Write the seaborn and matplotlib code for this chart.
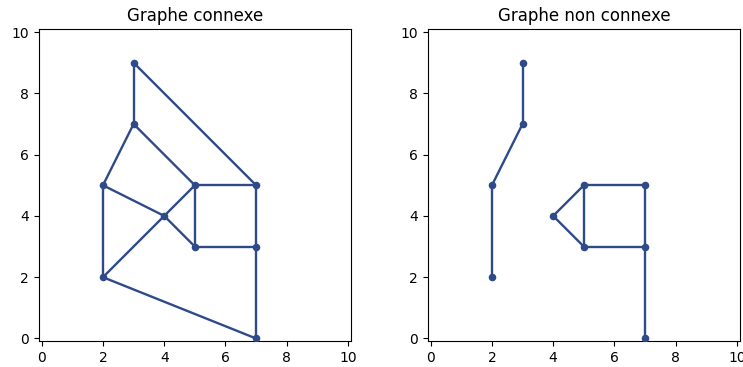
import matplotlib
matplotlib.use("Agg")
import matplotlib.pyplot as plt
import seaborn as sns
import pandas as pd

# node coordinates
nodes_x = [3, 3, 2, 5, 7, 4, 5, 7, 2, 7]
nodes_y = [9, 7, 5, 5, 5, 4, 3, 3, 2, 0]

# edges as pairs of node indices
edges_connexe = [(0, 1), (0, 4), (1, 2), (1, 3), (2, 5), (2, 8), (5, 3), (5, 6),
                 (5, 8), (3, 4), (3, 6), (6, 7), (4, 7), (7, 9), (8, 9)]
edges_non_connexe = [(0, 1), (1, 2), (2, 8), (5, 3), (5, 6), (3, 4), (3, 6),
                     (6, 7), (4, 7), (7, 9)]
nodes_non_connexe = [0, 1, 2, 8, 3, 4, 5, 6, 7, 9]

titles = ["Graphe connexe", "Graphe non connexe"]
color = "#2e4a88"


def edge_frame(edges):
    rows = []
    for k, (a, b) in enumerate(edges):
        rows.append({"edge": k, "x": nodes_x[a], "y": nodes_y[a]})
        rows.append({"edge": k, "x": nodes_x[b], "y": nodes_y[b]})
    return pd.DataFrame(rows)


def node_frame(idx):
    return pd.DataFrame({"x": [nodes_x[i] for i in idx], "y": [nodes_y[i] for i in idx]})


fig, axes = plt.subplots(1, 2, figsize=(7.43, 3.67), dpi=100)
fig.subplots_adjust(left=0.052, right=0.996, bottom=0.071, top=0.921, wspace=0.245)

graphs = [(edges_connexe, list(range(len(nodes_x)))), (edges_non_connexe, nodes_non_connexe)]
for ax, (edges, idx), title in zip(axes, graphs, titles):
    sns.lineplot(data=edge_frame(edges), x="x", y="y", units="edge", estimator=None,
                 sort=False, color=color, linewidth=1.7, ax=ax)
    sns.scatterplot(data=node_frame(idx), x="x", y="y", color=color, s=30,
                    edgecolor=color, linewidth=0, zorder=3, ax=ax)
    ax.set_xlim(-0.1, 10.1)
    ax.set_ylim(-0.08, 10.1)
    ax.set_xticks(range(0, 11, 2))
    ax.set_yticks(range(0, 11, 2))
    ax.set_xlabel("")
    ax.set_ylabel("")
    ax.set_title(title, fontsize=12)

fig.savefig("out.png")
